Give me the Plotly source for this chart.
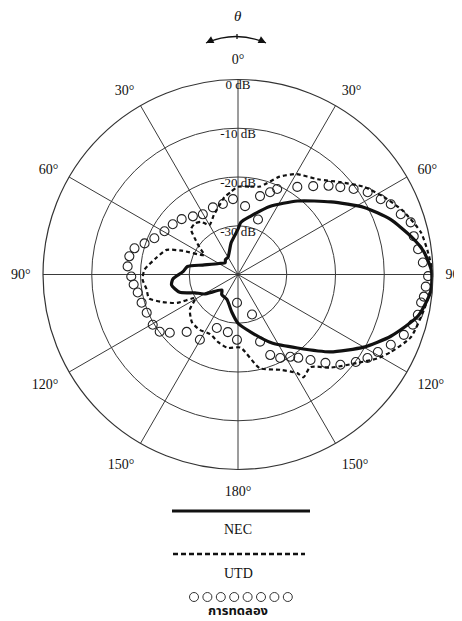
import plotly.graph_objects as go

PAGE_W, PAGE_H = 462, 621
OFF = 8                      # the page body adds an 8px margin around the figure
W, H = PAGE_W - OFF, PAGE_H - OFF
CX, CY, R = 238, 274.5, 195  # polar centre and 0 dB radius in page pixels

# ---------------- data (theta in degrees, clockwise from top; level in dB) -------------
nec_theta = [0, 3, 12, 25, 39, 52, 62, 70, 77.5, 83, 89, 95, 103, 112, 120, 130, 141, 153.6, 166.5, 180,
             189, 204, 219, 226, 240, 247, 253, 261, 266, 273, 279, 285, 300, 313, 320, 330, 348, 360]
nec_db = [-30.7, -29.3, -27.8, -24.6, -20.6, -15.8, -10.7, -6.8, -3.7, -1.6, -0.3, -0.3, -2.1, -6.2, -10.2,
          -15.3, -20.6, -24.3, -27.7, -30.0, -32.1, -34.4, -34.7, -35.4, -32.0, -30.4, -27.5, -26.2, -26.6,
          -28.7, -29.5, -32.5, -35.5, -36.4, -36.0, -35.9, -33.3, -30.7]

utd_theta = [0, 8, 14, 23, 30, 40, 48, 55, 62, 69, 77, 83, 90, 94, 101, 110, 117, 121, 126.5, 135, 142,
             147.5, 149, 156, 167, 178, 188, 196, 205, 215, 224, 234, 241, 245, 250, 255, 261, 267, 273,
             282, 289, 293, 300, 305, 310, 314, 320, 325, 330, 338, 345, 350, 355, 360]
utd_db = [-22.0, -21.8, -21.4, -18.2, -16.2, -14.5, -11.7, -8.6, -6.1, -3.7, -1.5, -0.8, 0.0, -0.3, -1.2,
          -2.3, -4.9, -6.6, -9.5, -13.0, -15.9, -15.0, -16.4, -18.6, -20.3, -25.0, -24.8, -25.5, -26.5,
          -26.2, -26.4, -27.8, -30.0, -26.2, -23.5, -21.1, -21.0, -20.4, -20.8, -23.0, -24.5, -27.5, -32.0,
          -30.4, -28.4, -26.6, -26.3, -26.8, -28.3, -26.8, -25.3, -23.9, -23.0, -22.0]

exp_theta = [5.9, 15.7, 20, 21.3, 24.6, 34.1, 40.4, 45.6, 49.5, 53.5, 57.6, 62.2, 65.3, 69.7, 73.2, 77.7,
             82, 86.3, 90.5, 93.7, 96.8, 98.7, 102.6, 106, 110, 114.7, 119, 122.8, 126.6, 131.4, 135.3,
             139.7, 144.1, 147.6, 153.2, 158.2, 160.7, 161.8, 180.9, 182, 190, 201.6, 210.3, 221.8, 229.5,
             233.8, 239.5, 247.3, 253.7, 259.8, 264.5, 268.9, 274.2, 279.5, 284.2, 288.4, 293.4, 300.5,
             307.6, 314.5, 322.2, 329.7, 339.5, 347.9, 356.2]
exp_db = [-25.9, -23.3, -28.0, -21.9, -20.7, -18.3, -16.2, -14.0, -12.4, -10.5, -8.5, -6.9, -5.5, -4.4,
          -3.0, -3.1, -2.7, -2.0, -1.0, -1.4, -1.6, -2.0, -2.2, -2.7, -3.8, -5.5, -7.2, -8.4, -9.9, -12.0,
          -14.5, -17.0, -18.9, -20.0, -20.8, -22.2, -31.3, -25.5, -26.6, -34.2, -28.0, -28.2, -24.5, -24.2,
          -21.6, -20.1, -19.7, -19.7, -19.4, -19.1, -18.5, -18.1, -17.3, -17.4, -18.1, -19.8, -21.3, -22.5,
          -23.1, -23.8, -24.9, -25.7, -25.3, -25.2, -24.5]

angle_ticks = [0, 30, 60, 90, 120, 150, 180, 210, 240, 270, 300, 330]
angle_labels = ["0°", "30°", "60°", "90°", "120°", "150°", "180°", "150°", "120°", "90°", "60°", "30°"]
db_ticks = [0, -10, -20, -30]
db_labels = ["0 dB", "-10 dB", "-20 dB", "-30 dB"]
legend_names = ["NEC", "UTD", "การทดลอง"]

SERIF = "Liberation Serif, Times New Roman, serif"
INK = "#111111"


def px(x):
    return (x - OFF) / W


def py(y):
    return 1 - (y - OFF) / H


fig = go.Figure()

fig.add_trace(go.Scatterpolar(theta=exp_theta, r=exp_db, mode="markers",
                              marker=dict(symbol="circle-open", size=9, color="#222",
                                          line=dict(width=1.1, color="#222")),
                              hoverinfo="skip"))
fig.add_trace(go.Scatterpolar(theta=utd_theta, r=utd_db, mode="lines",
                              line=dict(color=INK, width=2.2, dash="4px,3px", shape="spline", smoothing=0.6),
                              hoverinfo="skip"))
fig.add_trace(go.Scatterpolar(theta=nec_theta, r=nec_db, mode="lines",
                              line=dict(color=INK, width=3.2, shape="spline", smoothing=0.6),
                              hoverinfo="skip"))
fig.add_trace(go.Scatterpolar(theta=[0] * len(db_ticks), r=db_ticks, mode="text", text=db_labels,
                              textposition="bottom center",
                              textfont=dict(family=SERIF, size=13, color=INK), hoverinfo="skip"))

# legend samples on an invisible pixel-scaled axis below the polar plot
LEG_TOP = 478
fig.add_trace(go.Scatter(x=[172, 310], y=[511, 511], mode="lines", line=dict(color=INK, width=3.2),
                         xaxis="x", yaxis="y", hoverinfo="skip"))
fig.add_trace(go.Scatter(x=[173, 305], y=[554, 554], mode="lines",
                         line=dict(color=INK, width=2.6, dash="5px,3px"),
                         xaxis="x", yaxis="y", hoverinfo="skip"))
fig.add_trace(go.Scatter(x=[194 + 13.4 * i for i in range(8)], y=[597] * 8, mode="markers",
                         marker=dict(symbol="circle-open", size=9, color="#333", line=dict(width=1)),
                         xaxis="x", yaxis="y", hoverinfo="skip"))

ann = []
for name, yy in [(legend_names[0], 529), (legend_names[1], 573)]:
    ann.append(dict(text=name, x=px(238), y=py(yy), xref="paper", yref="paper",
                    showarrow=False, xanchor="center", yanchor="middle",
                    font=dict(family=SERIF, size=14, color=INK)))
ann.append(dict(text="<b>" + legend_names[2] + "</b>", x=px(238), y=py(611), xref="paper", yref="paper",
                showarrow=False, xanchor="center", yanchor="middle",
                font=dict(family="Noto Sans Thai, Noto Sans, DejaVu Sans, sans-serif", size=13, color=INK)))
ann.append(dict(text="<i>θ</i>", x=px(238), y=py(16), xref="paper", yref="paper", showarrow=False,
                xanchor="center", yanchor="middle", font=dict(family=SERIF, size=15, color=INK)))
# arrow heads of the theta arc
ann.append(dict(text="", x=px(206), y=py(43), xref="paper", yref="paper", showarrow=True,
                arrowhead=2, arrowsize=1, arrowwidth=1.5, arrowcolor=INK, ax=8, ay=-4, standoff=0))
ann.append(dict(text="", x=px(266), y=py(43), xref="paper", yref="paper", showarrow=True,
                arrowhead=2, arrowsize=1, arrowwidth=1.5, arrowcolor=INK, ax=-8, ay=-4, standoff=0))

shapes = [
    dict(type="path", xref="paper", yref="paper",
         path="M %.4f,%.4f Q %.4f,%.4f %.4f,%.4f" % (px(206), py(43), px(236), py(30), px(266), py(43)),
         line=dict(color=INK, width=1.3)),
    dict(type="line", xref="paper", yref="paper", x0=px(237), x1=px(237), y0=py(34), y1=py(39),
         line=dict(color=INK, width=1.3)),
]

fig.update_layout(
    width=W, height=H, margin=dict(l=0, r=0, t=0, b=0),
    paper_bgcolor="white", plot_bgcolor="rgba(0,0,0,0)", showlegend=False,
    font=dict(family=SERIF, color=INK),
    polar=dict(
        domain=dict(x=[px(CX - R), px(CX + R)], y=[py(CY + R), py(CY - R)]),
        bgcolor="white",
        angularaxis=dict(rotation=90, direction="clockwise", tickmode="array", tickvals=angle_ticks,
                         ticktext=angle_labels, showgrid=True, gridcolor="#3a3a3a", gridwidth=1,
                         showline=True, linecolor="#333", linewidth=1.2,
                         ticks="outside", ticklen=9, tickcolor="rgba(0,0,0,0)",
                         tickfont=dict(family=SERIF, size=14, color=INK)),
        radialaxis=dict(range=[-40, 0], tickmode="array", tickvals=db_ticks, showticklabels=False,
                        ticks="", showline=False, showgrid=True, gridcolor="#3a3a3a", gridwidth=1),
    ),
    xaxis=dict(domain=[0, 1], range=[OFF, PAGE_W], visible=False, fixedrange=True),
    yaxis=dict(domain=[0, (PAGE_H - LEG_TOP) / H], range=[PAGE_H, LEG_TOP], visible=False, fixedrange=True),
    annotations=ann, shapes=shapes,
)

fig.write_html("out.html")
